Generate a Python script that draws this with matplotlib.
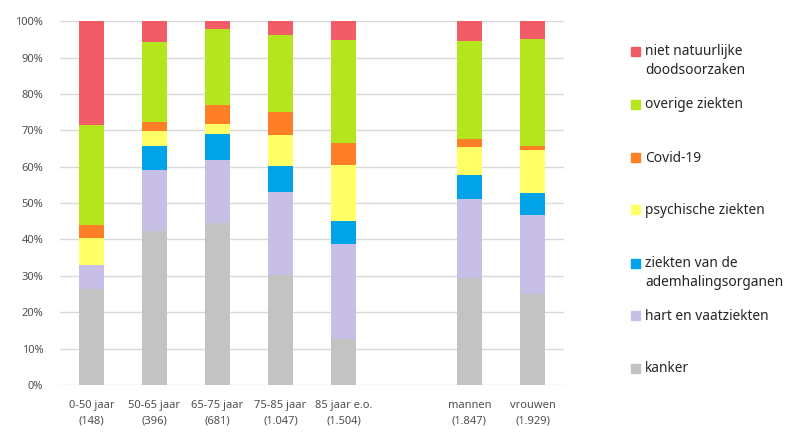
import numpy as np
import matplotlib.pyplot as plt
from matplotlib.patches import Rectangle

plt.rcParams['font.family'] = ['Noto Sans', 'DejaVu Sans']

categories = ["0-50 jaar\n(148)", "50-65 jaar\n(396)", "65-75 jaar\n(681)", "75-85 jaar\n(1.047)",
              "85 jaar e.o.\n(1.504)", "mannen\n(1.847)", "vrouwen\n(1.929)"]

# percentages per oorzaak, van onder naar boven
kanker = [26.4, 42.3, 44.6, 30.2, 12.6, 29.3, 24.9]
hart = [6.7, 16.9, 17.3, 22.8, 26.1, 21.8, 21.8]
adem = [0.0, 6.4, 7.1, 7.3, 6.5, 6.7, 6.2]
psych = [7.4, 4.1, 2.8, 8.5, 15.2, 7.6, 11.8]
covid = [3.4, 2.6, 5.2, 6.3, 6.1, 2.2, 0.9]
overig = [27.6, 21.9, 20.9, 21.0, 28.4, 26.9, 29.5]
niet_nat = [28.5, 5.8, 2.1, 3.9, 5.1, 5.5, 4.9]

series = [kanker, hart, adem, psych, covid, overig, niet_nat]
labels = ["kanker", "hart en vaatziekten", "ziekten van de\nademhalingsorganen",
          "psychische ziekten", "Covid-19", "overige ziekten", "niet natuurlijke\ndoodsoorzaken"]
colors = ["#c3c3c3", "#c8bfe7", "#00a2e8", "#ffff66", "#ff7f27", "#b5e61d", "#f25c66"]

x = np.arange(len(categories)).astype(float)
x[5:] += 1  # lege plek tussen leeftijden en geslacht

fig = plt.figure(figsize=(8, 4.41), dpi=100)
ax = fig.add_axes([0.075, 0.127, 0.63, 0.825])

bottom = np.zeros(len(categories))
for vals, col in zip(series, colors):
    ax.bar(x, vals, width=0.41, bottom=bottom, color=col, zorder=3)
    bottom += np.array(vals)

ax.set_xlim(-0.5, 7.5)
ax.set_ylim(0, 100)
ax.set_yticks(np.arange(0, 101, 10))
ax.set_yticklabels([f"{v}%" for v in range(0, 101, 10)], fontsize=8, color="#505050")
ax.set_xticks(x)
ax.set_xticklabels(categories, fontsize=8, color="#505050", linespacing=1.5)
ax.tick_params(axis="x", length=0, pad=11)
ax.tick_params(axis="y", length=0, pad=12)
ax.grid(axis="y", color="#d9d9d9", linewidth=1, zorder=0)
for s in ax.spines.values():
    s.set_visible(False)

# legenda, handmatig geplaatst zoals in het origineel
legend_y = [369, 316, 273, 210, 158, 105, 61]
for lab, col, yy in zip(labels, colors, legend_y):
    fy = 1 - yy / 441
    nlines = lab.count("\n") + 1
    my = fy + (nlines - 1) * 0.0215
    fig.patches.append(Rectangle((631 / 800, my - 0.0102), 9 / 800, 9 / 441,
                                 transform=fig.transFigure, color=col))
    fig.text(645 / 800, fy, lab, fontsize=9.9, va="center", ha="left",
             color="#262626", linespacing=1.3)

fig.savefig("out.png", dpi=100)
